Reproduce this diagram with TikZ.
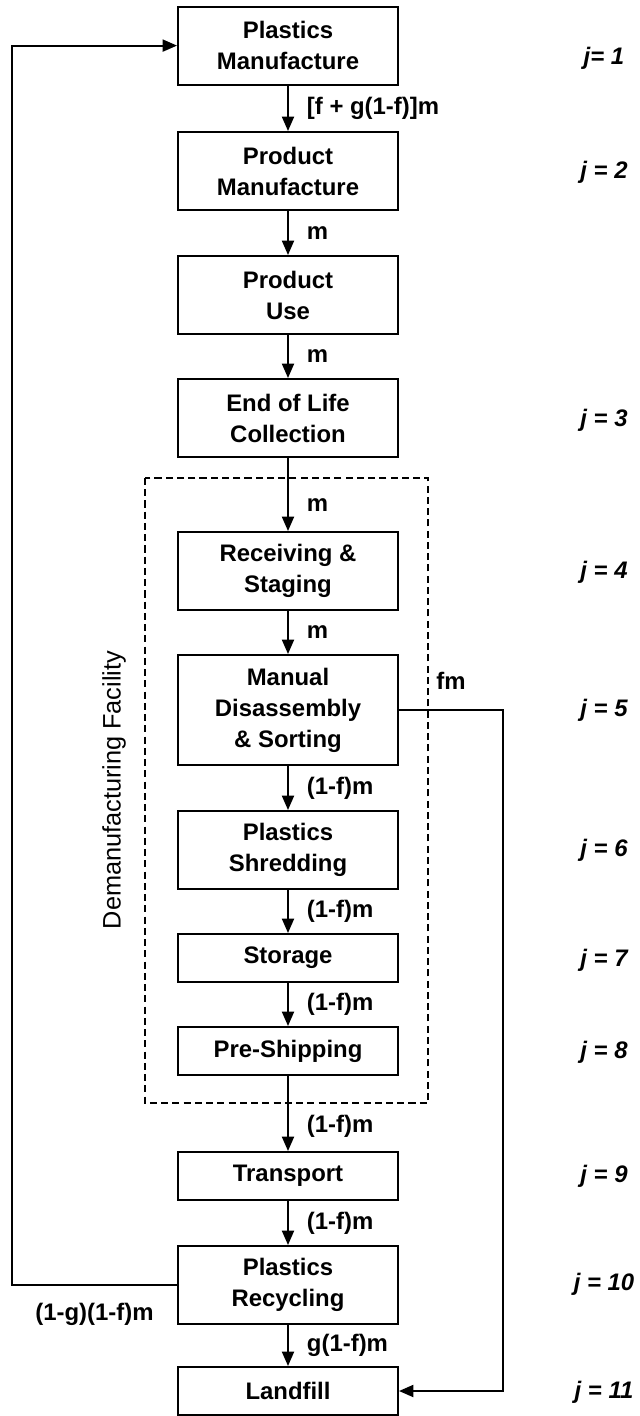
\documentclass[tikz,border=0pt]{standalone}
\usepackage{fontspec}
\setmainfont{Liberation Sans}
\usetikzlibrary{arrows.meta}

\begin{document}
\begin{tikzpicture}[
    stage/.style={draw, line width=1.4pt, minimum width=5.5cm, minimum height=1.95cm,
      align=center, font=\fontsize{17}{22}\selectfont\bfseries},
    shortstage/.style={stage, minimum height=1.2cm},
    flow/.style={line width=1.4pt, -{Triangle[length=0.36cm,width=0.3cm]}},
    amount/.style={inner sep=0pt, font=\fontsize{17}{22}\selectfont\bfseries},
    jlabel/.style={font=\fontsize{17}{22}\selectfont\bfseries\itshape}
  ]

  \useasboundingbox (0,0) rectangle (16,-35.4);

  % facility border
  \draw [line width=1pt, dash pattern=on 5pt off 3pt] (3.625,-11.95) rectangle (10.7,-27.575);
  \node [rotate=90, font=\fontsize{18}{22}\selectfont] (fac) at (2.85,-19.75) {Demanufacturing Facility};

  % nodes
  \node [stage] (pm) at (7.2,-1.14) {Plastics\\Manufacture};
  \node [stage] (prm) at (7.2,-4.275) {Product\\Manufacture};
  \node [stage] (use) at (7.2,-7.375) {Product\\Use};
  \node [stage] (eol) at (7.2,-10.45) {End of Life\\Collection};
  \node [stage] (rec) at (7.2,-14.275) {Receiving \&\\Staging};
  \node [stage, minimum height=2.75cm] (man) at (7.2,-17.75) {Manual\\Disassembly\\\& Sorting};
  \node [stage] (shr) at (7.2,-21.25) {Plastics\\Shredding};
  \node [shortstage] (sto) at (7.2,-23.95) {Storage};
  \node [shortstage] (pre) at (7.2,-26.275) {Pre-Shipping};
  \node [shortstage] (tra) at (7.2,-29.4) {Transport};
  \node [stage] (rcy) at (7.2,-32.125) {Plastics\\Recycling};
  \node [shortstage] (lan) at (7.2,-34.775) {Landfill};
  \coordinate (loop) at (0.3,-32.125);
  \coordinate (fmbend) at (12.575,-17.75);

  % arrows
  \draw [flow] (pm) -- node[amount, right, xshift=0.45cm] {[f + g(1-f)]m} (prm);
  \draw [flow] (prm) -- node[amount, right, xshift=0.45cm] {m} (use);
  \draw [flow] (use) -- node[amount, right, xshift=0.45cm] {m} (eol);
  \draw [flow] (eol) -- node[amount, right, xshift=0.45cm, pos=0.64] {m} (rec);
  \draw [flow] (rec) -- node[amount, right, xshift=0.45cm] {m} (man);
  \draw [flow] (man) -- node[amount, right, xshift=0.45cm] {(1-f)m} (shr);
  \draw [flow] (shr) -- node[amount, right, xshift=0.45cm] {(1-f)m} (sto);
  \draw [flow] (sto) -- node[amount, right, xshift=0.45cm] {(1-f)m} (pre);
  \draw [flow] (pre) -- node[amount, right, xshift=0.45cm, pos=0.67] {(1-f)m} (tra);
  \draw [flow] (tra) -- node[amount, right, xshift=0.45cm] {(1-f)m} (rcy);
  \draw [flow] (rcy) -- node[amount, right, xshift=0.45cm] {g(1-f)m} (lan);
  \draw [flow] (rcy.west) -- node[amount, below, yshift=-0.42cm] {(1-g)(1-f)m} (loop) |- (pm.west);
  \draw [flow] (man.east) -- node[amount, above, yshift=0.5cm] {fm} (fmbend) |- (lan.east);

  % stage numbers
  \node [jlabel] (j1) at (15.1,-1.45) {j= 1};
  \node [jlabel] (j2) at (15.1,-4.3) {j = 2};
  \node [jlabel] (j3) at (15.1,-10.5) {j = 3};
  \node [jlabel] (j4) at (15.1,-14.3) {j = 4};
  \node [jlabel] (j5) at (15.1,-17.75) {j = 5};
  \node [jlabel] (j6) at (15.1,-21.25) {j = 6};
  \node [jlabel] (j7) at (15.1,-24.0) {j = 7};
  \node [jlabel] (j8) at (15.1,-26.3) {j = 8};
  \node [jlabel] (j9) at (15.1,-29.4) {j = 9};
  \node [jlabel] (j10) at (15.1,-32.1) {j = 10};
  \node [jlabel] (j11) at (15.1,-34.8) {j = 11};

\end{tikzpicture}
\end{document}
